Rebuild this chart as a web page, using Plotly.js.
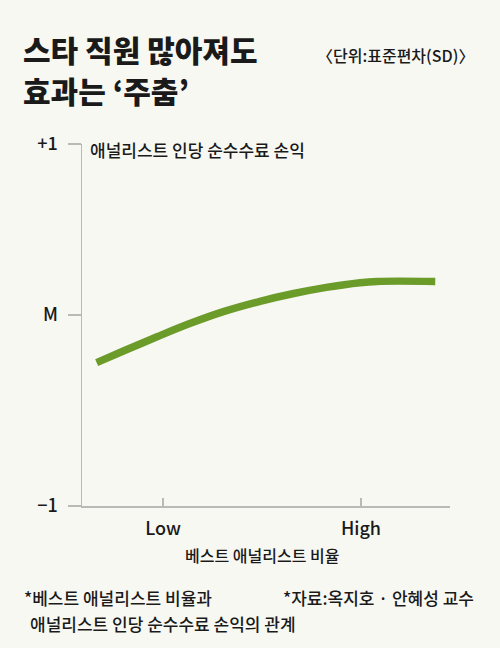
<!DOCTYPE html>
<html>
<head>
<meta charset="utf-8">
<script src="https://cdn.plot.ly/plotly-3.0.1.min.js"></script>
<style>
html,body{margin:0;padding:0;background:#f8f8f3;}
#chart{width:500px;height:648px;}
</style>
</head>
<body>
<div id="chart"></div>
<script>
// Best-analyst ratio (x, in SD units; Low = -1, High = +1) vs. net fee income per analyst (y, SD)
var xValues = [-1.67, -1.40, -1.06, -0.73, -0.39, -0.02, 0.32, 0.65, 0.99, 1.16, 1.75];
var yValues = [-0.208, -0.144, -0.065, 0.008, 0.074, 0.131, 0.174, 0.208, 0.234, 0.241, 0.241];
var xTickVals = [-1, 1];
var xTickText = ['Low', 'High'];
var yTickVals = [-1, 0.055, 1];
var yTickText = ['\u22121', 'M', '+1'];
var titleLines = ['스타 직원 많아져도', '효과는 ‘주춤’'];

var KR = '"Noto Sans CJK KR", "Noto Sans", sans-serif';
var ink = '#1a1a1a';
var axisCol = '#b9b9b6';

var L = 82, R = 50, T = 144, B = 142, W = 500, H = 648;
var pw = W - L - R, ph = H - T - B;
function px(x){ return (x - L) / pw; }
function py(y){ return (H - B - y) / ph; }

var trace = {
  x: xValues, y: yValues, type: 'scatter', mode: 'lines',
  line: {color: '#6b9b29', width: 7.5, shape: 'spline', smoothing: 1},
  hoverinfo: 'skip'
};

function note(text, x, y, anchor, size, weight) {
  return {text: text, xref: 'paper', yref: 'paper', x: px(x), y: py(y),
    xanchor: anchor, yanchor: 'middle', showarrow: false,
    font: {family: KR, size: size, color: ink, weight: weight || 500}};
}

var layout = {
  width: W, height: H,
  margin: {l: L, r: R, t: T, b: B},
  paper_bgcolor: '#f8f8f3', plot_bgcolor: '#f8f8f3',
  showlegend: false,
  font: {family: KR, color: ink},
  xaxis: {
    range: [-1.818, 1.899], tickvals: xTickVals, ticktext: xTickText,
    showline: true, linecolor: axisCol, linewidth: 1.5,
    ticks: 'inside', ticklen: 8, tickcolor: axisCol, tickwidth: 1.5,
    showgrid: false, zeroline: false, fixedrange: true,
    ticklabelstandoff: 6,
    tickfont: {family: KR, size: 18, color: ink, weight: 500}
  },
  yaxis: {
    range: [-1, 1], tickvals: yTickVals, ticktext: yTickText,
    showline: true, linecolor: axisCol, linewidth: 1.5,
    ticks: 'outside', ticklen: 13, tickcolor: axisCol, tickwidth: 1.5,
    showgrid: false, zeroline: false, fixedrange: true,
    ticklabelstandoff: 6,
    tickfont: {family: KR, size: 18, color: ink, weight: 500}
  },
  annotations: [
    note(titleLines[0], 21, 49, 'left', 30, 900),
    note(titleLines[1], 21, 90, 'left', 30, 900),
    note('〈단위:표준편차(SD)〉', 476, 55, 'right', 16),
    note('애널리스트 인당 순수수료 손익', 88, 149, 'left', 17),
    note('베스트 애널리스트 비율', 262, 555, 'center', 16),
    note('*베스트 애널리스트 비율과', 22, 597, 'left', 17),
    note('애널리스트 인당 순수수료 손익의 관계', 28, 623, 'left', 17),
    note('*자료:옥지호 · 안혜성 교수', 476, 597, 'right', 17)
  ]
};

Plotly.newPlot('chart', [trace], layout, {displayModeBar: false, staticPlot: true});
</script>
</body>
</html>
